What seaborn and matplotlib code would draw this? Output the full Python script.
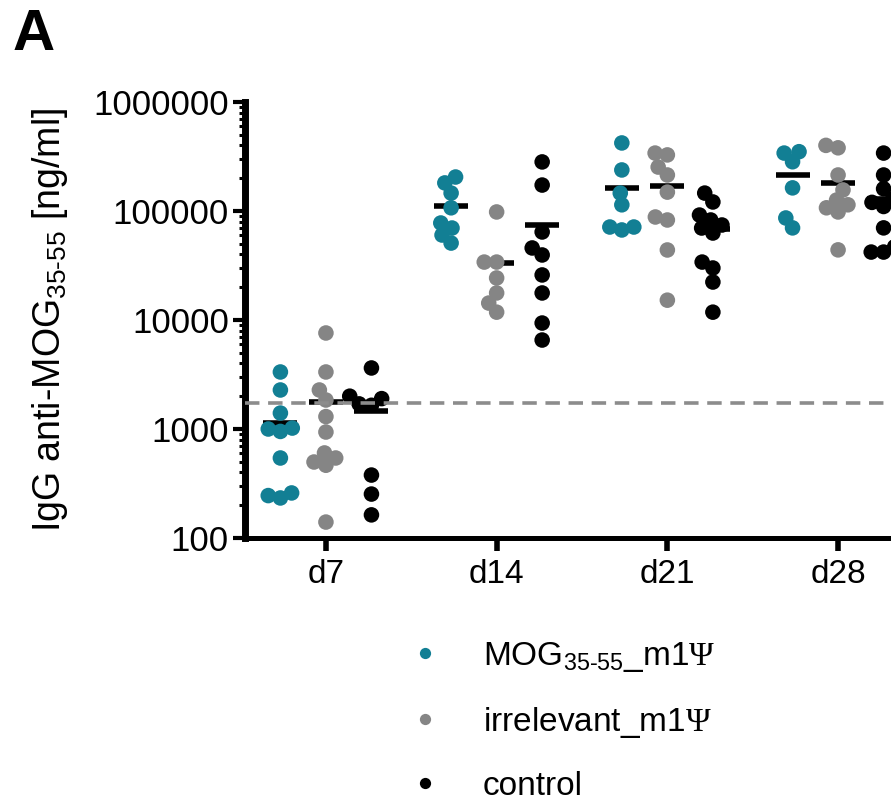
import numpy as np
import pandas as pd
import matplotlib
matplotlib.use("Agg")
import matplotlib.pyplot as plt
import seaborn as sns
from matplotlib.ticker import FixedLocator, FuncFormatter, LogLocator, NullFormatter

# ---------------- data ----------------
days = ["d7", "d14", "d21", "d28"]
group_mog = "MOG$_{\\text{35-55}}$_m1$\\mathsf{\\Psi}$"
group_irr = "irrelevant_m1$\\mathsf{\\Psi}$"
group_ctl = "control"
groups = [group_mog, group_irr, group_ctl]
colors = ["#127f94", "#858585", "#000000"]
y_ticks = [100, 1000, 10000, 100000, 1000000]
threshold = 1750

mog_d7 = [3335, 2280, 1400, 1020, 1000, 950, 542, 259, 245, 233]
mog_d14 = [205000, 181000, 146000, 107000, 77600, 69800, 60200, 50800]
mog_d21 = [421000, 238000, 146000, 114000, 71300, 71300, 67000]
mog_d28 = [350000, 340000, 283000, 163000, 86300, 70000]

irr_d7 = [7600, 3335, 2280, 1845, 1300, 938, 603, 542, 498, 465, 140]
irr_d14 = [98000, 34000, 34000, 24300, 17700, 14300, 11800]
irr_d21 = [340000, 327000, 253000, 214000, 149000, 88100, 82700, 43900, 15200]
irr_d28 = [400000, 380000, 214000, 156000, 126000, 114000, 107000, 98000, 44000]

ctl_d7 = [3630, 2000, 1900, 1700, 1650, 378, 253, 163]
ctl_d14 = [282000, 173000, 64200, 45800, 39500, 25900, 17700, 9380, 6550]
ctl_d21 = [146000, 121000, 91800, 82700, 74400, 69800, 62800, 34000, 30000, 22300, 11800]
ctl_d28 = [340000, 214000, 160000, 130000, 120000, 110000, 70000, 47000, 42000, 42000]

series = {
    group_mog: [mog_d7, mog_d14, mog_d21, mog_d28],
    group_irr: [irr_d7, irr_d14, irr_d21, irr_d28],
    group_ctl: [ctl_d7, ctl_d14, ctl_d21, ctl_d28],
}
rows = []
for g, lists in series.items():
    for d, vals in zip(days, lists):
        for v in vals:
            rows.append({"day": d, "group": g, "value": v})
df = pd.DataFrame(rows)
means = df.groupby(["day", "group"], sort=False)["value"].mean().reset_index()

# ---------------- style ----------------
sns.set_style("ticks")
plt.rcParams["font.family"] = ["Liberation Sans", "DejaVu Sans"]
plt.rcParams["mathtext.fontset"] = "custom"
plt.rcParams["mathtext.rm"] = "Liberation Sans"
plt.rcParams["mathtext.it"] = "Liberation Sans:italic"
plt.rcParams["mathtext.bf"] = "Liberation Sans:bold"
plt.rcParams["mathtext.sf"] = "Liberation Serif"
for k in ["text.color", "axes.labelcolor", "xtick.color", "ytick.color", "axes.edgecolor"]:
    plt.rcParams[k] = "black"

fig = plt.figure(figsize=(8.91, 8.01), dpi=100)
ax = fig.add_axes([245 / 891, 1 - 538 / 801, 1 - 245 / 891, (538 - 102) / 801])
ax.set_yscale("log")

pal = dict(zip(groups, colors))
sns.pointplot(data=means, x="day", y="value", hue="group", order=days,
              hue_order=groups, dodge=0.5333, palette={g: "black" for g in groups},
              markers="_", linestyles="none", markersize=24, markeredgewidth=4.0,
              errorbar=None, legend=False, zorder=2, ax=ax)
n_before = len(ax.collections)
sns.swarmplot(data=df, x="day", y="value", hue="group", order=days,
              hue_order=groups, dodge=True, palette=pal, size=8.5,
              linewidth=0, zorder=3, ax=ax)

ax.axhline(threshold, color="#8c8c8c", lw=2.6, ls=(0, (4, 2.4)), zorder=4)

ax.set_ylim(100, 1000000)
ax.set_xlim(-0.474, 3.31)
ax.yaxis.set_major_locator(FixedLocator(y_ticks))
ax.yaxis.set_major_formatter(FuncFormatter(lambda v, p: f"{int(round(v))}"))
ax.yaxis.set_minor_locator(LogLocator(base=10, subs=range(2, 10)))
ax.yaxis.set_minor_formatter(NullFormatter())

# fix the swarm layout, then draw the dots a little larger (Prism-like overlap)
fig.canvas.draw()
for coll in ax.collections[n_before:]:
    if "draw" in coll.__dict__:
        del coll.draw
    coll.set_sizes([11.2 ** 2])

for s in ["top", "right"]:
    ax.spines[s].set_visible(False)
ax.spines["left"].set_linewidth(5)
ax.spines["bottom"].set_linewidth(3.6)

ax.tick_params(axis="y", which="major", length=8.6, width=3, labelsize=25, pad=3)
ax.tick_params(axis="y", which="minor", length=4, width=2.2)
ax.tick_params(axis="x", which="major", length=9, width=4, labelsize=24, pad=6)

ax.set_xlabel("")
ax.set_ylabel("IgG anti-MOG$_{\\text{35-55}}$ [ng/ml]", fontsize=27, labelpad=17)

sns.move_legend(ax, "upper left", bbox_to_anchor=(0.4585, 0.201),
                bbox_transform=fig.transFigure, frameon=False, title=None,
                fontsize=24, markerscale=0.95, handlelength=1.0,
                handletextpad=1.23, labelspacing=0.93, borderpad=0,
                borderaxespad=0)

fig.text(13 / 891, 1 - 50 / 801, "A", fontsize=42, fontweight="bold",
         va="baseline", ha="left")

fig.savefig("out.png", dpi=100)
